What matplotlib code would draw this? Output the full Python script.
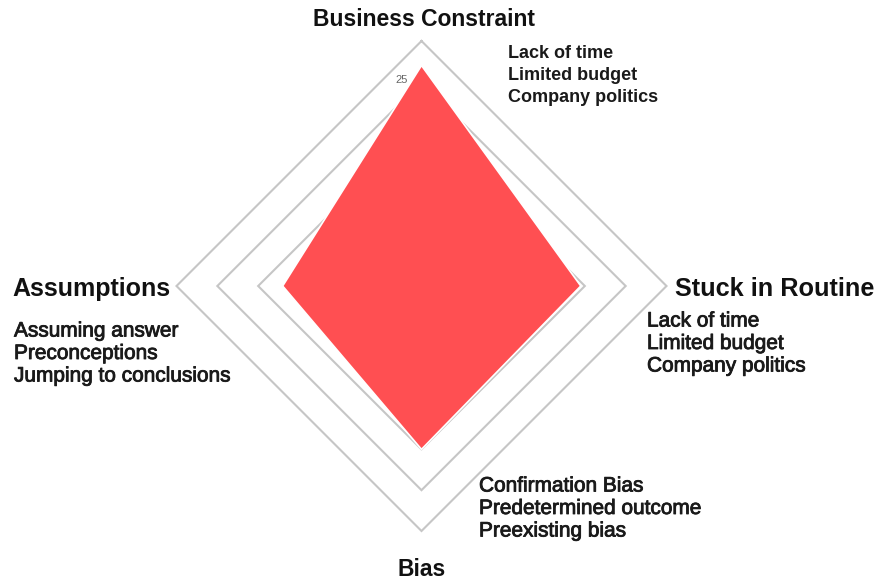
import numpy as np
import matplotlib
matplotlib.use("Agg")
import matplotlib.pyplot as plt
import matplotlib.patheffects as pe

plt.rcParams['font.family'] = ['Liberation Sans', 'DejaVu Sans']

categories = ["Business Constraint", "Stuck in Routine", "Bias", "Assumptions"]
values = [27, 19.5, 20, 17]
ring_levels = [20, 25, 30]
ring_label = "25"
details = {
    "Business Constraint": ["Lack of time", "Limited budget", "Company politics"],
    "Stuck in Routine": ["Lack of time", "Limited budget", "Company politics"],
    "Bias": ["Confirmation Bias", "Predetermined outcome", "Preexisting bias"],
    "Assumptions": ["Assuming answer", "Preconceptions", "Jumping to conclusions"],
}

W, H = 879, 584
fig = plt.figure(figsize=(W / 100, H / 100), dpi=100)
fig.patch.set_facecolor("white")

cx, cy = 421.5, 286.0
rpx = 245.0
ax = fig.add_axes([(cx - rpx) / W, (H - cy - rpx) / H, 2 * rpx / W, 2 * rpx / H],
                  projection="polar")
ax.set_theta_offset(np.pi / 2)
ax.set_theta_direction(-1)
ax.set_ylim(0, 30)
ax.axis("off")

n = len(categories)
angles = np.linspace(0, 2 * np.pi, n, endpoint=False)
closed = np.concatenate([angles, angles[:1]])

for lvl in ring_levels:
    ax.plot(closed, [lvl] * (n + 1), color="#c6c6c6", lw=1.5, zorder=1,
            solid_joinstyle="miter", clip_on=False)

vals = list(values) + [values[0]]
ax.fill(closed, vals, color="#ff4f52", zorder=3, edgecolor="white", lw=1.2)

ax.text(np.deg2rad(-5.5), 25.4, ring_label, fontsize=8, color="#666666",
        ha="center", va="center", zorder=4)

def fx(px):
    return px / W

def fy(py):
    return 1 - py / H

# Category titles
fig.text(fx(424), fy(19), categories[0], fontsize=16.5, fontweight="bold",
         ha="center", va="center", color="#111111")
fig.text(fx(675), fy(289), categories[1], fontsize=18.2, fontweight="bold",
         ha="left", va="center", color="#111111")
fig.text(fx(422), fy(570), categories[2], fontsize=16.5, fontweight="bold",
         ha="center", va="center", color="#111111")
fig.text(fx(12), fy(289), categories[3], fontsize=18.0, fontweight="bold",
         ha="left", va="center", color="#111111")

thick = [pe.withStroke(linewidth=0.6, foreground="#1a1a1a")]

def block(x, y0, lines, **kw):
    for i, t in enumerate(lines):
        fig.text(fx(x), fy(y0 + i * 22.5), t, ha="left", va="center",
                 color="#1a1a1a", **kw)

block(508, 53, details["Business Constraint"], fontsize=13, fontweight="bold")
block(647, 321, details["Stuck in Routine"], fontsize=15, path_effects=thick)
block(479, 486, details["Bias"], fontsize=15, path_effects=thick)
block(14, 331, details["Assumptions"], fontsize=15, path_effects=thick)

fig.savefig("out.png", dpi=100, facecolor="white")
